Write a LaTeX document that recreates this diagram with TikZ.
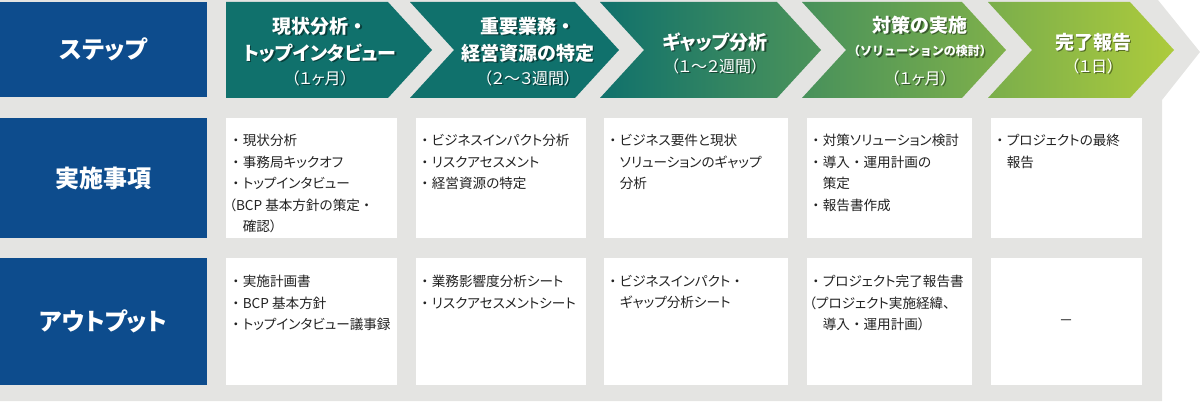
\documentclass[tikz,border=0pt]{standalone}
\usepackage{fontspec}
\setmainfont{Noto Sans CJK JP}[RawFeature=+palt]
\newfontfamily\jpwide{Noto Sans CJK JP}
\usetikzlibrary{calc}

\definecolor{stepblue}{HTML}{0D4C8D}
\definecolor{bggray}{HTML}{E4E4E2}
\definecolor{chevteal}{HTML}{10716C}
\definecolor{chevmid}{HTML}{5F9A60}
\definecolor{chevlime}{HTML}{ADCB3C}
\definecolor{bodytext}{HTML}{222222}

\newcommand{\hdrtext}[4]{%
  \node[#4,text=black,opacity=.45] (#1s) at ($(#2)+(1.5,1.5)$) {#3};
  \node[#4] (#1) at (#2) {#3};
}
\newcommand{\wdot}{{\jpwide ・}}
\newcommand{\ind}{\phantom{\wdot}}

\begin{document}
\begin{tikzpicture}[x=1pt,y=-1pt,
  lbl/.style={text=white,font=\fontsize{24}{28}\selectfont\bfseries},
  hdr/.style={text=white,align=center,font=\fontsize{19}{27}\selectfont\bfseries},
  sub/.style={text=white,font=\jpwide\fontsize{12}{16}\selectfont\bfseries},
  dur/.style={text=white,font=\fontsize{16}{20}\selectfont},
  body/.style={anchor=north west,align=left,inner sep=0pt,text=bodytext,font=\fontsize{13.6}{21.5}\selectfont}]

\useasboundingbox (0,0) rectangle (1200,404);

\fill[bggray] (0,0) -- (1158,0) -- (1200,52) -- (1162,100) -- (1162,401) -- (0,401) -- cycle;

\fill[stepblue] (0,2) rectangle (207,97);
\fill[stepblue] (0,118) rectangle (207,238);
\fill[stepblue] (0,258) rectangle (207,385);
\node[lbl] (step) at (103.5,49.5) {ステップ};
\node[lbl] (task) at (103.5,178) {実施事項};
\node[lbl] (output) at (103.5,321.5) {アウトプット};

\fill[chevteal] (226,2) -- (388,2) -- (432,50) -- (388,98) -- (226,98) -- cycle;
\fill[chevteal] (410,2) -- (575,2) -- (619,50) -- (575,98) -- (410,98) -- (454,50) -- cycle;
\shade[left color=chevteal,middle color=chevmid,right color=chevlime]
  (600,2) -- (777,2) -- (821,50) -- (777,98) -- (600,98) -- (644,50) -- cycle
  (802,2) -- (962,2) -- (1006,50) -- (962,98) -- (802,98) -- (846,50) -- cycle
  (988,2) -- (1130,2) -- (1174,50) -- (1130,98) -- (988,98) -- (1032,50) -- cycle;

\hdrtext{t1}{320,39.5}{現状分析\wdot\\トップインタビュー}{hdr}
\hdrtext{d1}{320,78}{（１ヶ月）}{dur}
\hdrtext{t2}{528,39.5}{重要業務\wdot\\経営資源の特定}{hdr}
\hdrtext{d2}{528,78}{（２～３週間）}{dur}
\hdrtext{t3}{715,42}{ギャップ分析}{hdr}
\hdrtext{d3}{715,66}{（１～２週間）}{dur}
\hdrtext{t4}{920,25}{対策の実施}{hdr}
\hdrtext{s4}{920,51}{（ソリューションの検討）}{sub}
\hdrtext{d4}{920,78}{（１ヶ月）}{dur}
\hdrtext{t5}{1093,42}{完了報告}{hdr}
\hdrtext{d5}{1093,66}{（１日）}{dur}

\foreach \l/\r in {226/397,416/586,604/788,807/972,991/1142}{
  \fill[white] (\l,118) rectangle (\r,238);
  \fill[white] (\l,258) rectangle (\r,385);
}

\node[body] (a1) at (229,134) {\wdot 現状分析\\\wdot 事務局キックオフ\\\wdot トップインタビュー\\（BCP 基本方針の策定\wdot\\\ind 確認）};
\node[body] (a2) at (418,134) {\wdot ビジネスインパクト分析\\\wdot リスクアセスメント\\\wdot 経営資源の特定};
\node[body] (a3) at (606,134) {\wdot ビジネス要件と現状\\\ind ソリューションのギャップ\\\ind 分析};
\node[body] (a4) at (809,134) {\wdot 対策ソリューション検討\\\wdot 導入\wdot 運用計画の\\\ind 策定\\\wdot 報告書作成};
\node[body] (a5) at (993,134) {\wdot プロジェクトの最終\\\ind 報告};

\node[body] (o1) at (229,275) {\wdot 実施計画書\\\wdot BCP 基本方針\\\wdot トップインタビュー議事録};
\node[body] (o2) at (418,275) {\wdot 業務影響度分析シート\\\wdot リスクアセスメントシート};
\node[body] (o3) at (606,275) {\wdot ビジネスインパクト\wdot\\\ind ギャップ分析シート};
\node[body] (o4) at (809,275) {\wdot プロジェクト完了報告書\\（プロジェクト実施経緯、\\\ind 導入\wdot 運用計画）};
\node[text=bodytext,font=\fontsize{14}{18}\selectfont] (o5) at (1066,323) {－};

\end{tikzpicture}
\end{document}
